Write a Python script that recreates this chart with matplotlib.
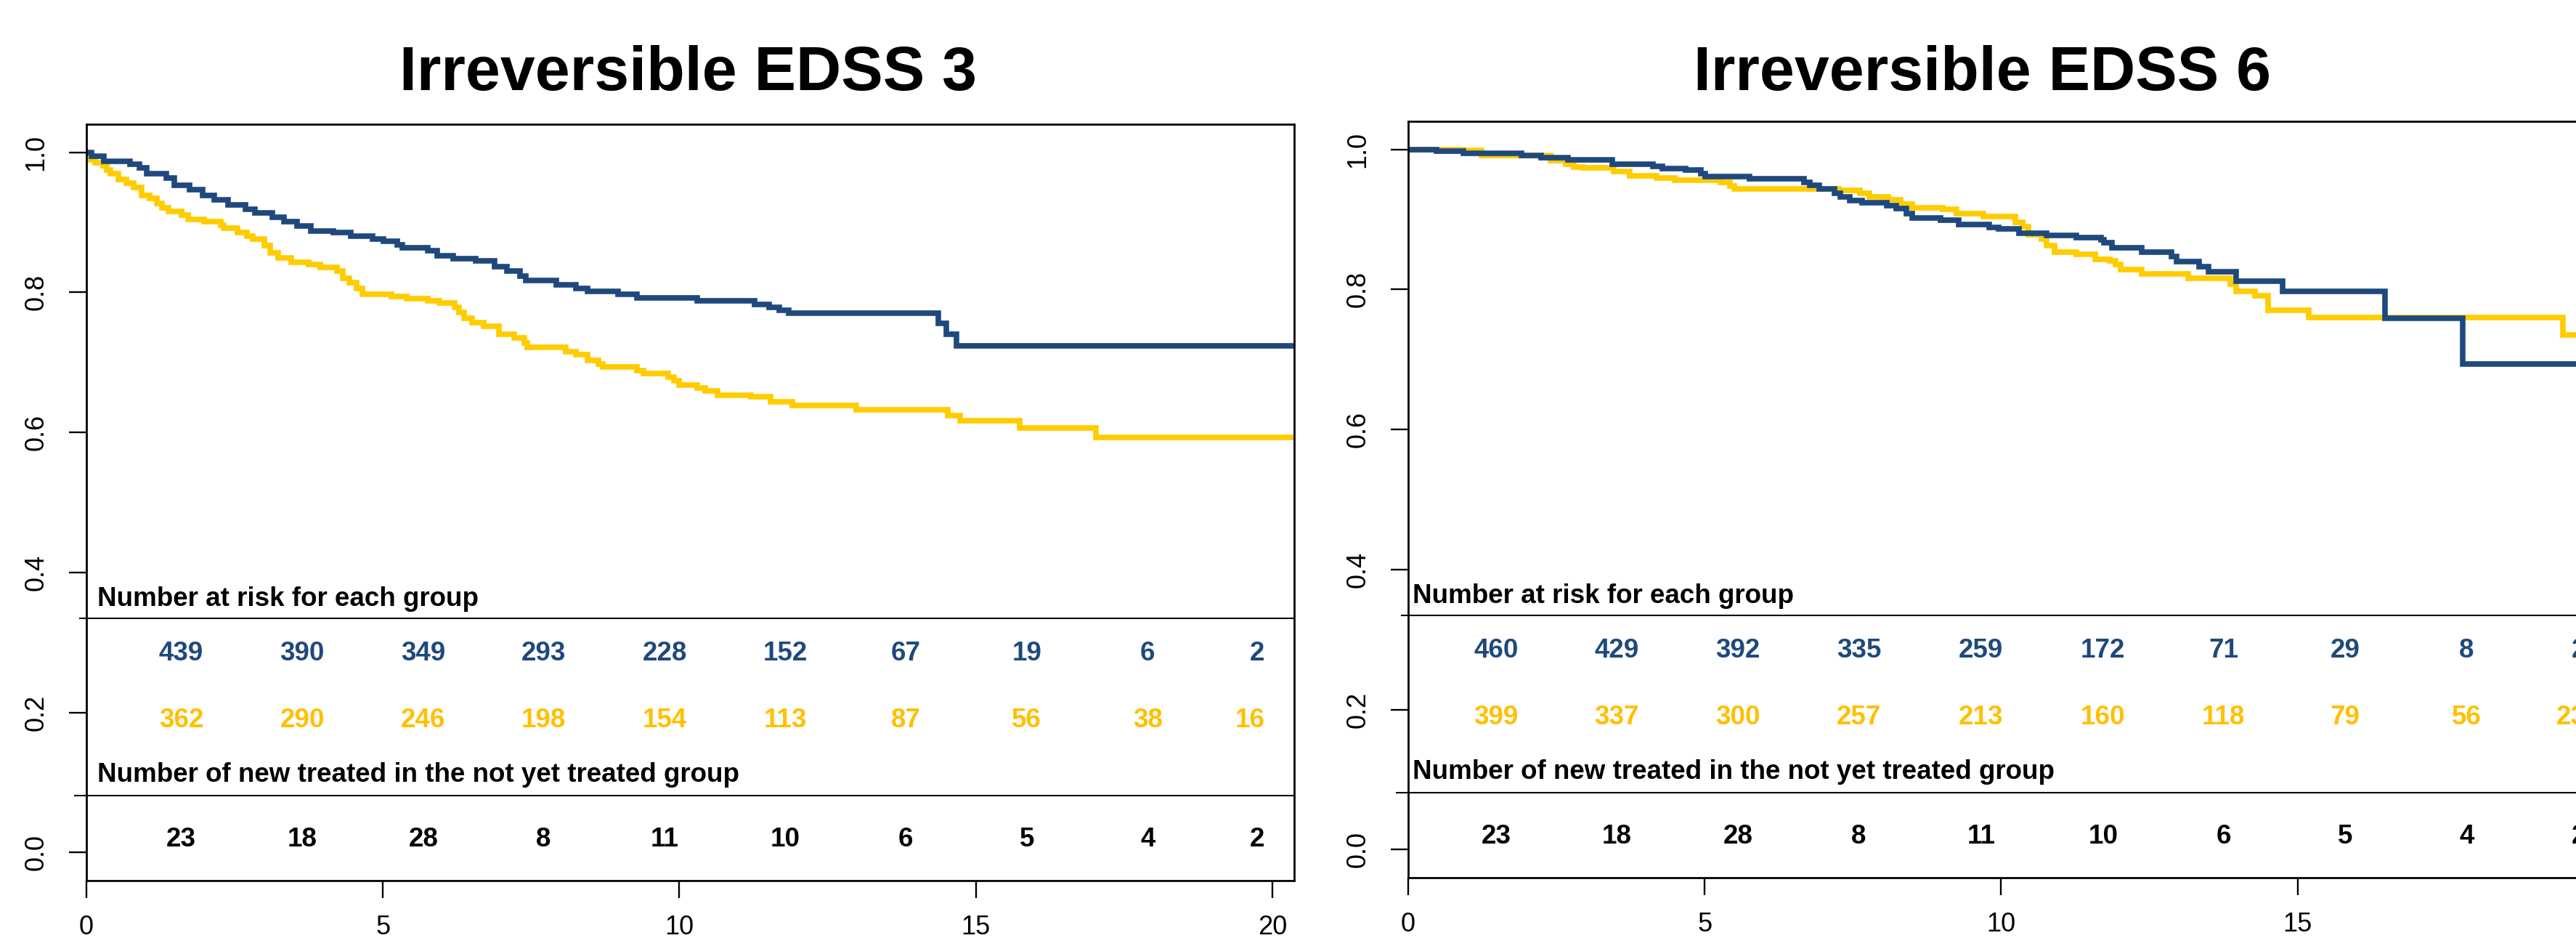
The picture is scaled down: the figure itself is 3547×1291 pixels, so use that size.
import numpy as np
import matplotlib
matplotlib.use("agg")
import matplotlib.pyplot as plt

plt.rcParams['font.family'] = ['Liberation Sans', 'DejaVu Sans']

# colours
blue = "#1F497D"
yellow_line = "#FFCC00"
yellow_text = "#FFC000"

titles = ["Irreversible EDSS 3", "Irreversible EDSS 6"]
heading_risk = "Number at risk for each group"
heading_new = "Number of new treated in the not yet treated group"

# EDSS 3 curves (step times, survival)
t3_blue = [0, 0.08, 0.29, 0.73, 0.89, 1.02, 1.35, 1.48, 1.74, 1.96, 2.16, 2.39, 2.68, 2.84, 3.13,
           3.33, 3.55, 3.78, 4.17, 4.46, 4.82, 5.01, 5.24, 5.33, 5.76, 5.92, 6.18, 6.57, 6.89, 7.09,
           7.31, 7.41, 7.93, 8.25, 8.45, 8.97, 9.29, 10.30, 11.27, 11.51, 11.68, 11.85, 14.37, 14.50,
           14.67, 20.5]
s3_blue = [1.0, 0.994, 0.987, 0.983, 0.978, 0.969, 0.963, 0.953, 0.947, 0.938, 0.932, 0.925, 0.919,
           0.913, 0.907, 0.901, 0.895, 0.888, 0.885, 0.880, 0.876, 0.873, 0.868, 0.864, 0.859, 0.852,
           0.848, 0.845, 0.837, 0.830, 0.823, 0.817, 0.811, 0.806, 0.801, 0.797, 0.792, 0.788, 0.783,
           0.779, 0.774, 0.770, 0.756, 0.740, 0.724, 0.724]
t3_yel = [0, 0.02, 0.15, 0.28, 0.34, 0.41, 0.54, 0.67, 0.80, 0.93, 1.06, 1.19, 1.28, 1.38, 1.61, 1.71,
          1.99, 2.26, 2.32, 2.55, 2.71, 2.81, 3.00, 3.10, 3.23, 3.45, 3.75, 3.94, 4.23, 4.33, 4.43,
          4.56, 4.65, 5.14, 5.40, 5.76, 5.95, 6.21, 6.28, 6.37, 6.50, 6.70, 6.96, 7.22, 7.38, 7.44,
          8.09, 8.25, 8.45, 8.64, 8.71, 9.29, 9.39, 9.81, 9.91, 9.998, 10.30, 10.44, 10.64, 11.21,
          11.54, 11.91, 12.99, 14.53, 14.73, 15.74, 17.02, 20.5]
s3_yel = [1.0, 0.989, 0.985, 0.981, 0.975, 0.969, 0.961, 0.956, 0.950, 0.938, 0.934, 0.927, 0.921,
          0.916, 0.910, 0.904, 0.901, 0.896, 0.892, 0.885, 0.880, 0.876, 0.867, 0.856, 0.849, 0.843,
          0.840, 0.836, 0.830, 0.820, 0.814, 0.806, 0.797, 0.794, 0.791, 0.788, 0.785, 0.779, 0.771,
          0.763, 0.757, 0.752, 0.740, 0.735, 0.728, 0.721, 0.715, 0.711, 0.703, 0.698, 0.693, 0.688,
          0.684, 0.679, 0.674, 0.668, 0.663, 0.659, 0.653, 0.651, 0.644, 0.638, 0.632, 0.624, 0.617,
          0.606, 0.593, 0.593]

# EDSS 6 curves
t6_blue = [0, 0.48, 0.93, 1.91, 2.24, 2.69, 3.44, 4.13, 4.29, 4.68, 4.94, 5.01, 5.76, 6.67, 6.77,
           6.93, 7.19, 7.29, 7.45, 7.65, 8.07, 8.23, 8.40, 8.50, 8.98, 9.28, 9.80, 9.96, 10.30, 10.77,
           11.27, 11.68, 11.74, 11.87, 12.37, 12.87, 12.96, 13.34, 13.50, 13.96, 14.75, 16.47, 17.78,
           20.5]
s6_blue = [1.0, 0.997, 0.994, 0.991, 0.988, 0.985, 0.979, 0.976, 0.973, 0.970, 0.965, 0.961, 0.958,
           0.953, 0.949, 0.943, 0.937, 0.932, 0.927, 0.924, 0.920, 0.915, 0.908, 0.902, 0.899, 0.893,
           0.889, 0.886, 0.880, 0.877, 0.874, 0.871, 0.867, 0.859, 0.853, 0.847, 0.840, 0.832, 0.825,
           0.812, 0.797, 0.759, 0.693, 0.693]
t6_yel = [0, 0.93, 1.24, 2.40, 2.66, 2.79, 2.95, 3.47, 3.74, 4.19, 4.49, 5.27, 5.43, 5.50, 7.26,
          7.62, 7.78, 8.10, 8.30, 8.50, 9.02, 9.25, 9.70, 10.24, 10.36, 10.46, 10.68, 10.77, 10.90,
          11.27, 11.59, 11.83, 11.93, 12.02, 12.37, 13.15, 13.87, 13.96, 14.28, 14.50, 15.19, 19.48,
          20.5]
s6_yel = [1.0, 0.998, 0.991, 0.984, 0.979, 0.975, 0.974, 0.968, 0.962, 0.959, 0.956, 0.953, 0.948,
          0.944, 0.941, 0.937, 0.932, 0.928, 0.922, 0.917, 0.914, 0.908, 0.904, 0.896, 0.890, 0.878,
          0.872, 0.863, 0.853, 0.850, 0.843, 0.841, 0.836, 0.828, 0.822, 0.816, 0.808, 0.797, 0.791,
          0.770, 0.760, 0.735, 0.735]

# numbers at risk / new treated
risk3_blue = [439, 390, 349, 293, 228, 152, 67, 19, 6, 2]
risk3_yel = [362, 290, 246, 198, 154, 113, 87, 56, 38, 16]
new3 = [23, 18, 28, 8, 11, 10, 6, 5, 4, 2]
risk6_blue = [460, 429, 392, 335, 259, 172, 71, 29, 8, 2]
risk6_yel = [399, 337, 300, 257, 213, 160, 118, 79, 56, 23]
new6 = [23, 18, 28, 8, 11, 10, 6, 5, 4, 2]

# where the count columns sit on the time axis
xpos3 = [1.60, 3.64, 5.68, 7.71, 9.75, 11.79, 13.82, 15.86, 17.90, 19.87]
xpos6 = [1.48, 3.52, 5.56, 7.60, 9.66, 11.72, 13.75, 15.80, 17.85, 19.87]

W, H = 3547, 1291
fig = plt.figure(figsize=(W / 100, H / 100), dpi=100)


def panel(px_left, px_top, px_bottom, tb, sb, ty, sy, rb, ry, nw, xpos, head_x):
    ax = fig.add_axes([px_left / W, 1 - px_bottom / H, 1663 / W, (px_bottom - px_top) / H])
    ax.step(ty, sy, where='post', color=yellow_line, lw=5.5, solid_joinstyle='miter')
    ax.step(tb, sb, where='post', color=blue, lw=5.5, solid_joinstyle='miter')
    ax.set_xlim(0, 20.37)
    ax.set_ylim(-0.04, 1.04)
    ax.set_xticks([0, 5, 10, 15, 20])
    ax.set_xticklabels(["0", "5", "10", "15", "20"])
    ax.set_yticks([0, 0.2, 0.4, 0.6, 0.8, 1.0])
    ax.set_yticklabels(["0.0", "0.2", "0.4", "0.6", "0.8", "1.0"], rotation=90, va='center')
    ax.tick_params(direction='out', length=17, width=1.7, labelsize=26)
    ax.tick_params(axis='x', pad=17)
    ax.tick_params(axis='y', pad=20)
    for sp in ax.spines.values():
        sp.set_linewidth(2.0)

    ax.text(head_x, 0.3526, heading_risk, fontsize=26.5, fontweight='bold', va='baseline')
    ax.text(head_x, 0.1013, heading_new, fontsize=26.5, fontweight='bold', va='baseline')
    ax.plot([-0.11, 20.37], [0.335, 0.335], color='black', lw=1.5, clip_on=False)
    ax.plot([-0.2, 20.37], [0.0817, 0.0817], color='black', lw=1.5, clip_on=False)

    for i, x in enumerate(xpos):
        ha = 'right' if i == len(xpos) - 1 else 'center'
        ax.text(x, 0.2744, str(rb[i]), color=blue, fontsize=26.5, fontweight='bold',
                ha=ha, va='baseline')
        ax.text(x, 0.179, str(ry[i]), color=yellow_text, fontsize=26.5, fontweight='bold',
                ha=ha, va='baseline')
        ax.text(x, 0.0085, str(nw[i]), color='black', fontsize=26.5, fontweight='bold',
                ha=ha, va='baseline')
    return ax


panel(119, 171, 1212, t3_blue, s3_blue, t3_yel, s3_yel, risk3_blue, risk3_yel, new3, xpos3, 0.18)
panel(1939, 167, 1208, t6_blue, s6_blue, t6_yel, s6_yel, risk6_blue, risk6_yel, new6, xpos6, 0.07)

fig.text(947 / W, 1 - 124 / H, titles[0], fontsize=62, fontweight='bold', ha='center', va='baseline')
fig.text(2730 / W, 1 - 124 / H, titles[1], fontsize=62, fontweight='bold', ha='center', va='baseline')

fig.savefig("out.png", dpi=100)
